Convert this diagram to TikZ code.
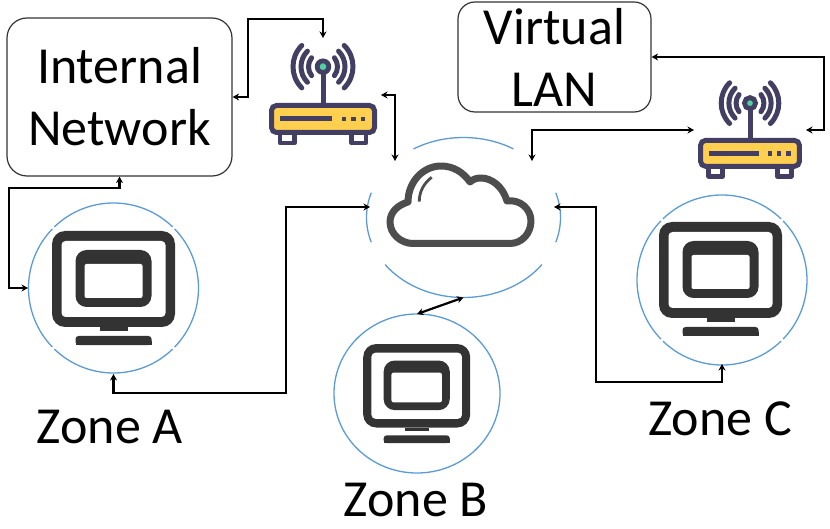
\documentclass[tikz,border=0pt]{standalone}
\usepackage{fontspec}
\setmainfont{Carlito}
\usetikzlibrary{shapes.geometric, arrows.meta}
\definecolor{ringblue}{HTML}{5B9BD5}
\definecolor{routerdark}{HTML}{433F63}
\definecolor{routeryellow}{HTML}{FFCF50}
\definecolor{routergreen}{HTML}{4FD1A1}
\definecolor{monitordark}{HTML}{333333}
\definecolor{clouddark}{HTML}{4D4D4D}
\tikzset{
  pics/router/.style={code={
    \draw[routerdark, line width=4.5pt, fill=white, line join=round] (-43,30) rectangle (-28.5,40);
    \draw[routerdark, line width=4.5pt, fill=white, line join=round] (28.5,30) rectangle (43,40);
    \draw[routerdark, line width=5pt, fill=routeryellow, rounded corners=5pt] (-51.5,2.5) rectangle (51.5,29.5);
    \fill[routerdark] (-43,13.5) rectangle (9,18.5);
    \foreach \px in {21,30.5,40}
      \fill[routerdark] (\px-2.3,13.7) rectangle (\px+2.3,18.3);
    \draw[routerdark, line width=5pt] (0,2) -- (0,-36.3);
    \draw[routerdark, line width=4.8pt, fill=routergreen] (0,-36.3) circle[radius=5.8pt];
    \foreach \rr/\aa in {30/45,22/45,14.5/38} {
      \draw[routerdark, line width=5pt, line cap=round] ([shift={(180-\aa:\rr pt)}]0,-36.3) arc[start angle=180-\aa, end angle=180+\aa, radius=\rr pt];
      \draw[routerdark, line width=5pt, line cap=round] ([shift={(-\aa:\rr pt)}]0,-36.3) arc[start angle=-\aa, end angle=\aa, radius=\rr pt];
    }
  }},
  pics/monitor/.style={code={
    \fill[monitordark, rounded corners=13pt] (-61.5,-57) rectangle (61.5,39);
    \fill[white, rounded corners=4pt] (-52,-47) rectangle (52,29);
    \fill[monitordark, rounded corners=11pt] (-38,-38) rectangle (38,19);
    \fill[white, rounded corners=2pt] (-29,-24) rectangle (29,10);
    \fill[monitordark] (-14,39) rectangle (14,43.5);
    \fill[monitordark, rounded corners=3pt] (-38,57) -- (-38,48) -- (38,48) -- (38,57) -- cycle;
    \fill[monitordark] (-38,57) rectangle (38,53);
  }}
}
\begin{document}
\begin{tikzpicture}[x=1pt, y=-1pt, >={Stealth[length=6.5pt, width=7pt]},
  box/.style={draw=black!80, line width=1.2pt, rounded corners=20pt, align=center, inner sep=0pt, font=\fontsize{52}{62}\selectfont},
  ring/.style={ellipse, inner sep=0pt, outer sep=0pt},
  ringline/.style={draw=ringblue, line width=1.3pt},
  link/.style={<->, line width=2.2pt},
  zonelabel/.style={font=\fontsize{52}{62}\selectfont, inner sep=0pt, anchor=base}]
\useasboundingbox (0,0) rectangle (830,529);
\node[box, minimum width=225pt, minimum height=158pt] (internal) at (119.5,97) {Internal\\Network};
\node[box, minimum width=193pt, minimum height=110pt, rounded corners=17pt] (virtual) at (554.5,57) {Virtual\\LAN};
\pic at (323,103) {router};
\pic[scale=0.96] at (750,138) {router};
\coordinate (routera top) at (323,38);
\coordinate (routera side) at (381,95);
\coordinate (routerb left) at (694,130);
\coordinate (routerb right) at (806,130);
\node[ring, minimum width=194pt, minimum height=160pt] (cloud) at (463.5,217.5) {};
\foreach \sa/\ea in {59/121,162/198,216/324,-18/18}
  \draw[ringline] ([shift={(\sa:97pt and 80pt)}]cloud.center) arc[start angle=\sa, end angle=\ea, x radius=97pt, y radius=80pt];
\draw[clouddark, line width=7pt, line join=round] (413,243.5) -- (510,243.5) .. controls (522,243.5) and (531,233) .. (531,221) .. controls (531,209) and (520,199) .. (507,201) .. controls (503,187) and (492,178) .. (481,178) .. controls (477,178) and (473,179) .. (470,182) .. controls (463,172) and (453,166) .. (441,166) .. controls (423,166) and (408,182) .. (408,202) .. controls (398,205) and (390,212) .. (390,222) .. controls (390,234) and (401,243.5) .. (413,243.5) -- cycle;
\draw[clouddark, line width=2.8pt] (431.7,177.3) .. controls (424,183) and (419,192) .. (419.3,201.7);
\coordinate (cloud top left) at (395,161);
\coordinate (cloud top right) at (532,161);
\coordinate (cloud left) at (370,207);
\coordinate (cloud right) at (554,207);
\node[ring, minimum width=171pt, minimum height=172pt] (zonea) at (113.5,288) {};
\node[ring, draw=ringblue, line width=1.3pt, minimum width=166pt, minimum height=159pt] (zoneb) at (417,393.5) {};
\node[ring, minimum width=168pt, minimum height=168pt] (zonec) at (722,280) {};
\foreach \zn in {zonea,zonec}
  \foreach \sa/\ea in {46/134,136/224,226/314,316/404}
    \draw[ringline] ([shift={(\sa:85pt)}]\zn.center) arc[start angle=\sa, end angle=\ea, radius=85pt];
\pic at (113.5,288) {monitor};
\pic[scale=0.87] at (416.7,393.6) {monitor};
\pic at (720.5,279) {monitor};
\node[zonelabel] (zonea label) at (110,443) {Zone A};
\node[zonelabel] (zoneb label) at (416,516) {Zone B};
\node[zonelabel] (zonec label) at (720,435) {Zone C};
\draw[link] (internal.east) -| (248,19) -| (routera top);
\draw[link] (routera side) -| (cloud top left);
\draw[link] (internal.south) |- (9,188) |- (zonea.west);
\draw[link] (zonea.south) |- (286,393) |- (cloud left);
\draw[link] (zoneb.north) -- (cloud.south);
\draw[link] (cloud right) -| (596,382) -| (zonec.south);
\draw[link] (cloud top right) |- (routerb left);
\draw[link] (routerb right) -| (824,57) -- (virtual.east);
\end{tikzpicture}
\end{document}
